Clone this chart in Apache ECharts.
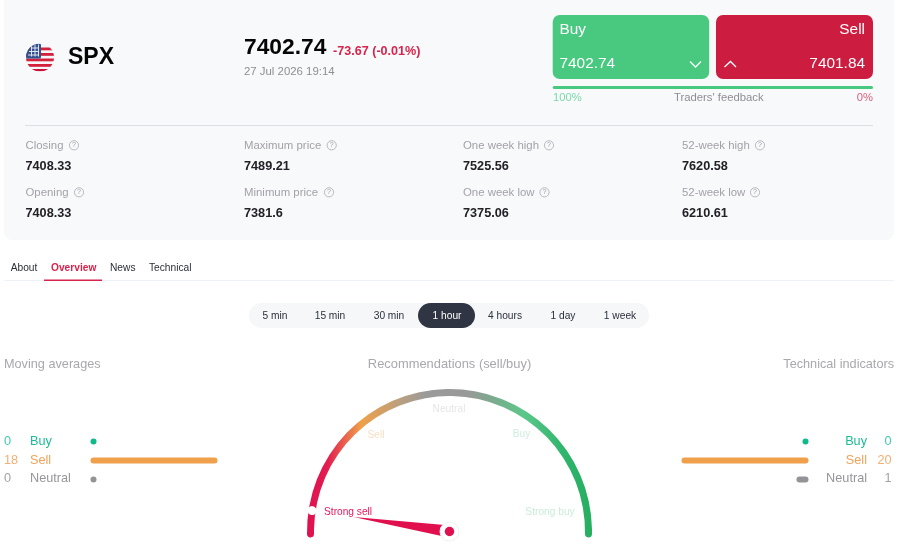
<!DOCTYPE html>
<html><head><meta charset="utf-8">
<style>html,body{margin:0;padding:0;background:#fff}#c{width:900px;height:553px}</style>
<script src="https://cdn.jsdelivr.net/npm/echarts@6/dist/echarts.min.js"></script>
</head><body><div id="c"></div>
<script>
const categories = ['Buy','Sell','Neutral'];
const movingValues = [0,18,0];
const technicalValues = [0,20,1];
const gaugeValue = 5.3;
const statsTop = [['Closing','7408.33',74],['Maximum price','7489.21',331.7],['One week high','7525.56',549],['52-week high','7620.58',760]];
const statsBottom = [['Opening','7408.33',79],['Minimum price','7381.6',329],['One week low','7375.06',544.5],['52-week low','6210.61',755]];
const statColumns = [25.5,244,463,682];
const tabs = [['About',10.7],['Overview',51],['News',110],['Technical',149]];
const frames = [['5 min',275],['15 min',330],['30 min',389],['1 hour',447],['4 hours',505],['1 day',563],['1 week',620]];
const barColors = ['#10b98a','#f0a04b','#949498'];
const labelColors = ['#1cbd94','#f0a25a','#95959b'];
const numberColors = ['#3fcfae','#f5ae74','#a3a3a6'];

const FF = '"Liberation Sans", Arial, sans-serif';
const flag = 'data:image/svg+xml;utf8,' + encodeURIComponent(
 '<svg xmlns="http://www.w3.org/2000/svg" width="56" height="56" viewBox="0 0 28 28"><defs><clipPath id="a"><circle cx="14" cy="14" r="14"/></clipPath></defs><g clip-path="url(#a)"><rect width="28" height="28" fill="#f6f6f8"/>'+
 '<rect y="4" width="28" height="2.8" fill="#d3213c"/><rect y="9.5" width="28" height="2.8" fill="#d3213c"/><rect y="15" width="28" height="2.8" fill="#d3213c"/><rect y="20.5" width="28" height="2.8" fill="#d3213c"/><rect y="25.5" width="28" height="2.5" fill="#c8143a"/>'+
 '<rect width="15" height="15" rx="1.5" fill="#34518f"/>'+
 '<path d="M5 4.5h8M3 8h10M2 11.5h11M5.5 2v11M9 1v12M12.500 1v12" stroke="#dfe5f0" stroke-width="1" fill="none"/></g></svg>');

function T(x,y,text,size,fill,opt){
  opt = opt||{};
  return {type:'text',x:x,y:y+0.6,z:opt.z||20,silent:true,style:{text:text,fontFamily:FF,fontSize:size,fontWeight:opt.weight||'normal',fill:fill,align:opt.align||'left',verticalAlign:'middle'}};
}
function R(x,y,w,h,fill,r,z,stroke){
  return {type:'rect',z:z||5,silent:true,shape:{x:x,y:y,width:w,height:h,r:r||0},style:{fill:fill,stroke:stroke||null}};
}
function help(x,y){
  return [{type:'circle',z:10,silent:true,shape:{cx:x,cy:y+0.3,r:4.6},style:{fill:'none',stroke:'#a9a9ae',lineWidth:0.8}},
          T(x,y-0.3,'?',7,'#9c9ca1',{align:'center'})];
}
let g = [];
g.push(R(4,-8,890,248,'#f8f9fb',8,1));
g.push({type:'image',z:10,silent:true,style:{image:flag,x:26,y:43.5,width:28,height:28}});
g.push(T(68,57.5,'SPX',23,'#050505',{weight:'bold'}));
g.push(T(244,47.5,'7402.74',22.8,'#050505',{weight:'bold'}));
g.push(T(333,50.5,'-73.67 (-0.01%)',12.6,'#d8244c',{weight:'bold'}));
g.push(T(244,71.5,'27 Jul 2026 19:14',11.4,'#8f8f93'));
g.push(R(552.7,15,156.5,64,'#48c97f',7,5));
g.push(R(716,15,157,64,'#cc1c40',7,5));
g.push(T(559.5,29,'Buy',15.4,'#fff'));
g.push(T(559.5,63,'7402.74',15.4,'#fff'));
g.push(T(865,29,'Sell',15.4,'#fff',{align:'right'}));
g.push(T(865,63,'7401.84',15.4,'#fff',{align:'right'}));
g.push({type:'polyline',z:10,silent:true,shape:{points:[[690,61.5],[695.5,67],[701,61.5]]},style:{stroke:'#fff',lineWidth:1.3,fill:'none'}});
g.push({type:'polyline',z:10,silent:true,shape:{points:[[724.5,67],[730.5,61.5],[736,67]]},style:{stroke:'#fff',lineWidth:1.3,fill:'none'}});
g.push(R(552.7,86,320.3,3,'#48c97f',1.5,5));
g.push(T(553,97.5,'100%',11.2,'#7cd8ac'));
g.push(T(674,97.5,"Traders' feedback",11.3,'#8e8e93'));
g.push(T(873,97.5,'0%',11.2,'#d9607c',{align:'right'}));
g.push(R(25,125,848,1,'#dcdfe5',0,5));
[[statsTop,145,165.5],[statsBottom,192,212.5]].forEach(function(row){
  row[0].forEach(function(s,i){
    g.push(T(statColumns[i],row[1],s[0],11.4,'#a2a2a7'));
    g.push(T(statColumns[i],row[2],s[1],12.7,'#222226',{weight:'bold'}));
    g = g.concat(help(s[2],row[1]));
  });
});
tabs.forEach(function(t,i){ g.push(T(t[1],267.5,t[0],10.2,i===1?'#d8244c':'#2b2f3a',{weight:i===1?'bold':'normal'})); });
g.push(R(4,280,890,1,'#eef1f5',0,4));
g.push(R(44,279.5,58,1.6,'#d8244c',0,6));
g.push(R(249,303,400,25,'#f6f7f9',12.5,4));
g.push(R(418,303,57,25,'#2f3542',12.5,5));
frames.forEach(function(f,i){ g.push(T(f[1],315.5,f[0],10.2,i===3?'#fff':'#2b2f3a',{align:'center'})); });
g.push(T(4,363.5,'Moving averages',12.7,'#a8a8ad'));
g.push(T(449.5,363.5,'Recommendations (sell/buy)',12.9,'#a8a8ad',{align:'center'}));
g.push(T(894,363.5,'Technical indicators',12.7,'#a8a8ad',{align:'right'}));
const rowY = [441,460,478];
categories.forEach(function(c,i){
  g.push(T(4,rowY[i],String(movingValues[i]),12.7,numberColors[i]));
  g.push(T(30,rowY[i],c,12.7,labelColors[i]));
  g.push(T(867,rowY[i],c,12.7,labelColors[i],{align:'right'}));
  g.push(T(891.5,rowY[i],String(technicalValues[i]),12.7,numberColors[i],{align:'right'}));
});
g.push(T(324,512,'Strong sell',10.2,'#e8175d',{z:30}));
g.push(T(376,434.5,'Sell',10.2,'#f9dfc2',{z:30,align:'center'}));
g.push(T(449,408.5,'Neutral',10.2,'#e6e6e8',{z:30,align:'center'}));
g.push(T(521.5,434,'Buy',10.2,'#cdeee0',{z:30,align:'center'}));
g.push(T(550,512,'Strong buy',10.2,'#c9eed9',{z:30,align:'center'}));

function barRender(params, api){
  const idx = api.value(0), val = api.value(1);
  const a = api.coord([0,idx]), b = api.coord([val,idx]);
  const x0 = Math.min(a[0],b[0])-3, x1 = Math.max(a[0],b[0])+3;
  return {type:'rect',shape:{x:x0,y:a[1]-3,width:x1-x0,height:6,r:3},style:{fill:barColors[idx]}};
}
function barData(v){ return v.map(function(x,i){return [i,x];}); }
function yAx(i){ return {type:'category',gridIndex:i,data:categories,inverse:true,show:false}; }

const gaugeBase = {type:'gauge',center:[449.5,531.5],radius:142.5,startAngle:181,endAngle:-1,min:0,max:100,
  axisTick:{show:false},splitLine:{show:false},axisLabel:{show:false},title:{show:false},detail:{show:false},animation:false};
const chart = echarts.init(document.getElementById('c'),null,{renderer:'canvas'});
chart.setOption({
  animation:false,
  backgroundColor:'#fff',
  graphic:{elements:g},
  grid:[
    {left:93.500,width:121,top:432,height:57},
    {left:684.500,width:121,top:432,height:57}
  ],
  xAxis:[
    {type:'value',gridIndex:0,min:0,max:18,show:false},
    {type:'value',gridIndex:1,min:0,max:20,inverse:true,show:false}
  ],
  yAxis:[yAx(0),yAx(1)],
  series:[
    {type:'custom',xAxisIndex:0,yAxisIndex:0,renderItem:barRender,encode:{x:1,y:0},data:barData(movingValues),z:8,silent:true},
    {type:'custom',xAxisIndex:1,yAxisIndex:1,renderItem:barRender,encode:{x:1,y:0},data:barData(technicalValues),z:8,silent:true},
    Object.assign({},gaugeBase,{z:6,
      axisLine:{roundCap:true,lineStyle:{width:7,color:[[1,new echarts.graphic.LinearGradient(0,0,1,0,[
        {offset:0,color:'#e0104f'},{offset:0.07,color:'#e21c50'},{offset:0.19,color:'#efa048'},{offset:0.33,color:'#b8a080'},
        {offset:0.42,color:'#9a9a9a'},{offset:0.56,color:'#999999'},{offset:0.64,color:'#7fa88f'},{offset:0.76,color:'#5cc78a'},{offset:0.9,color:'#2fb56c'},{offset:1,color:'#27ae60'}])]]}},
      pointer:{show:true,icon:'triangle',length:97,width:12,itemStyle:{color:'#e0104f'}},
      anchor:{show:true,showAbove:true,size:19,icon:'circle',itemStyle:{color:'#fff',borderColor:'#f0f0f2',borderWidth:1}},
      data:[{value:gaugeValue}]}),
    Object.assign({},gaugeBase,{z:7,
      axisLine:{show:false},
      pointer:{show:true,icon:'path://M4.500 0A4.500 4.500 0 1 1 4.500 9A4.500 4.500 0 1 1 4.500 0ZM4.500 143.500L4.500 143.500Z',length:143.5,width:9,itemStyle:{color:'#fff'}},
      anchor:{show:true,showAbove:true,size:9.5,icon:'circle',itemStyle:{color:'#e0104f'}},
      data:[{value:gaugeValue}]})
  ]
});
</script></body></html>
